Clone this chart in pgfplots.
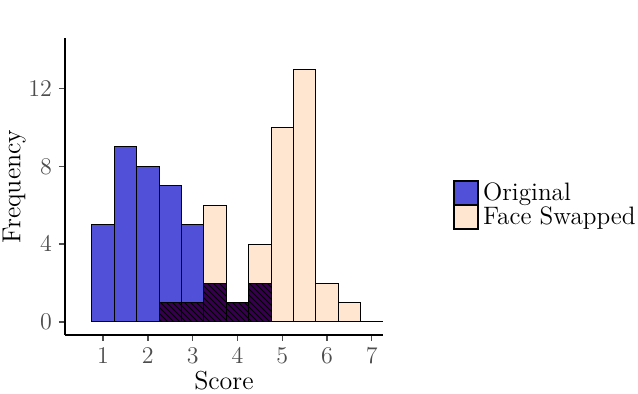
\documentclass[border=0pt]{standalone}
\usepackage{pgfplots}
\usepackage{pgfplotstable}
\pgfplotsset{compat=1.18}
\usetikzlibrary{patterns}

\definecolor{origCol}{HTML}{5050D9}
\definecolor{swapCol}{HTML}{FFE6D1}
\definecolor{overCol}{HTML}{36004F}
\definecolor{tickCol}{HTML}{4D4D4D}

% counts per half-point bin
\pgfplotstableread{
score orig swap
1.0   5    0
1.5   9    0
2.0   8    0
2.5   7    1
3.0   5    1
3.5   2    6
4.0   1    1
4.5   2    4
5.0   0    10
5.5   0    13
6.0   0    2
6.5   0    1
7.0   0    0
}\scores

\pgfplotsset{
    histbar/.style={
        ybar, bar width=0.5, bar shift=0pt, draw=black, line width=0.5pt,
    },
    keybox/.style={
        legend image code/.code={
            \draw[##1, draw=black, line width=0.9pt] (0pt,-6pt) rectangle (12pt,6pt);
        },
    },
}

\begin{document}
\begin{tikzpicture}
    \begin{axis}[
        scale only axis, width=159pt, height=148.5pt,
        xmin=0.15, xmax=7.25, ymin=-0.67, ymax=14.6,
        axis lines=left, axis line style={line width=1.1pt, -},
        xtick={1,...,7}, ytick={0,4,8,12},
        tick style={tickCol, line width=0.7pt},
        tick align=outside, major tick length=3pt,
        tick label style={font=\fontsize{11.5}{13}\selectfont, text=tickCol},
        xlabel={Score}, ylabel={Frequency},
        label style={font=\fontsize{13}{15}\selectfont},
        ylabel shift=-5.5pt,
        xlabel style={yshift=3pt},
        legend style={draw=none, fill=none, at={(rel axis cs:1.22,0.4377)},
            anchor=west, font=\fontsize{12.6}{15}\selectfont,
            row sep=-2.5pt, inner sep=0pt,
            /tikz/every even column/.append style={column sep=4pt}},
        legend cell align=left,
    ]
        \addplot[histbar, fill=origCol, keybox] table[x=score, y=orig] {\scores};
        \addlegendentry{Original}
        \addplot[histbar, fill=swapCol, keybox] table[x=score, y=swap] {\scores};
        \addlegendentry{Face Swapped}
        % overlap of the two series
        \addplot[histbar, fill=overCol, forget plot,
            postaction={pattern=north west lines, pattern color=black}]
            coordinates {(2.5,1)(3.0,1)(3.5,2)(4.0,1)(4.5,2)};
        \coordinate (O) at (rel axis cs:0,0);
    \end{axis}
    \pgfresetboundingbox
    \path[use as bounding box] ([shift={(-32.5pt,-29.5pt)}]O) rectangle ([shift={(286.5pt,167.5pt)}]O);
\end{tikzpicture}
\end{document}
